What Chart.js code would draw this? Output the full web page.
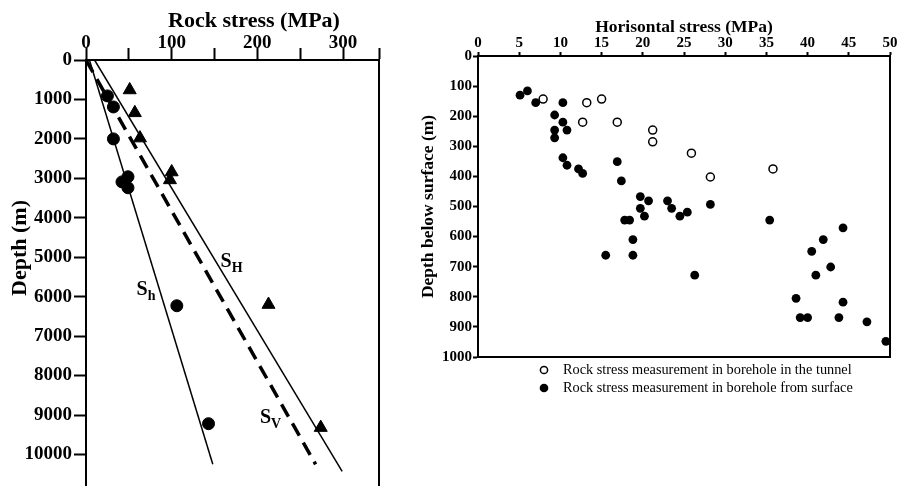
<!DOCTYPE html>
<html>
<head>
<meta charset="utf-8">
<script src="https://cdn.jsdelivr.net/npm/chart.js@4.4.0/dist/chart.umd.min.js"></script>
<style>
body{margin:0;background:#fff;width:898px;height:486px;overflow:hidden;position:relative}
canvas{position:absolute;top:0}
#depth-chart{left:0}
#horizontal-chart{left:400px}
</style>
</head>
<body>
<canvas id="depth-chart" width="400" height="486"></canvas>
<canvas id="horizontal-chart" width="498" height="486"></canvas>
<script>
Chart.defaults.font.family="'Liberation Serif', 'Times New Roman', serif";
Chart.defaults.color="#000";

// left chart - stress vs depth down to ~10 km
const minStress=[25,32,32,49,42,49,106,143];//circles (Sh)
const minDepth=[910,1190,2000,2960,3090,3240,6230,9220];
const maxStress=[51,57,63,100,98,213,274];//triangles (SH)
const maxDepth=[760,1340,1980,2840,3040,6200,9320];
const minTrendStress=[4,148], minTrendDepth=[0,10250];
const maxTrendStress=[10,299], maxTrendDepth=[0,10430];
const vertTrendStress=[0,268], vertTrendDepth=[0,10250];
const stressTickMarks=[0,50,100,150,200,250,300,342];
const rockStressTicks=[0,100,200,300];//the labelled ones
const depthTicks=[0,1000,2000,3000,4000,5000,6000,7000,8000,9000,10000];

// right chart - horisontal stress vs depth below surface
const tunnelStress=[7.9,13.2,15.0,12.7,16.9,21.2,21.2,25.9,28.2,35.8];
const tunnelDepth=[143,155,143,220,220,246,285,323,402,375];
const surfaceStress=[5.1,6.0,7.0,10.3,9.3,10.3,9.3,10.8,9.3,10.3,10.8,12.2,12.7,16.9,17.4,
  19.7,20.7,23.0,19.7,23.5,28.2,20.2,24.5,25.4,17.8,18.4,18.8,15.5,18.8,26.3,
  35.4,44.3,41.9,40.5,42.8,41.0,38.6,44.3,39.1,40.0,43.8,47.2,49.5];
const surfaceDepth=[130,116,155,155,196,220,246,246,272,338,363,375,390,351,415,
  467,481,481,506,506,493,532,532,519,545,545,610,662,662,728,
  545,571,610,649,701,728,805,818,869,869,869,883,948];

const toPoints=(xs,ys)=>xs.map((x,i)=>({x,y:ys[i]}));
const setTicks=list=>s=>{ s.ticks=list.map(v=>({value:v})); };

// S labels next to the trend lines (stress, depth)
const trendLabels=[
  {sub:"H",stress:157,depth:5240},
  {sub:"h",stress:59,depth:5960},
  {sub:"V",stress:203,depth:9200}
];

const leftText={
  id:"leftText",
  afterDatasetsDraw(chart){
    const {ctx,scales:{x,y}}=chart;
    ctx.save();
    ctx.fillStyle="#000";
    ctx.textBaseline="alphabetic";
    trendLabels.forEach(l=>{
      const px=x.getPixelForValue(l.stress), py=y.getPixelForValue(l.depth);
      ctx.font="bold 20px 'Liberation Serif'";
      ctx.fillText("S",px,py);
      const w=ctx.measureText("S").width;
      ctx.font="bold 14px 'Liberation Serif'";
      ctx.fillText(l.sub,px+w,py+5);
    });
    ctx.font="bold 22px 'Liberation Serif'";
    ctx.textAlign="center";
    ctx.textBaseline="middle";
    ctx.fillText("Rock stress (MPa)",254,21);
    ctx.translate(20,248);
    ctx.rotate(-Math.PI/2);
    ctx.fillText("Depth (m)",0,0);
    ctx.restore();
  }
};

const frameAxis=(pos,min,max)=>({
  position:pos,min,max,
  ticks:{display:false},
  grid:{display:false},
  border:{width:2,color:"#000"},
  afterFit:s=>{ if(pos==="right") s.width=0; else s.height=0; }
});

new Chart(document.getElementById("depth-chart"),{
  type:"scatter",
  data:{datasets:[
    {data:toPoints(minStress,minDepth),pointStyle:"circle",pointRadius:6,backgroundColor:"#000",borderColor:"#000",clip:false},
    {data:toPoints(maxStress,maxDepth),pointStyle:"triangle",pointRadius:7.5,backgroundColor:"#000",borderColor:"#000",clip:false},
    {data:toPoints(minTrendStress,minTrendDepth),showLine:true,pointRadius:0,borderColor:"#000",borderWidth:1.5},
    {data:toPoints(maxTrendStress,maxTrendDepth),showLine:true,pointRadius:0,borderColor:"#000",borderWidth:1.5},
    {data:toPoints(vertTrendStress,vertTrendDepth),showLine:true,pointRadius:0,borderColor:"#000",borderWidth:3.5,borderDash:[14,8]}
  ]},
  options:{
    responsive:false,animation:false,
    layout:{autoPadding:false,padding:{left:0,right:21,top:0,bottom:0}},
    plugins:{legend:{display:false},tooltip:{enabled:false}},
    scales:{
      x:{type:"linear",position:"top",min:0,max:342,
        afterBuildTicks:setTicks(stressTickMarks),
        ticks:{padding:-6,font:{size:19,weight:"bold"},maxRotation:0,autoSkip:false,
          callback:v=>rockStressTicks.includes(v)?v:""},
        grid:{drawOnChartArea:false,tickLength:12,tickWidth:2,color:"#000"},
        border:{width:2,color:"#000"},
        afterFit:s=>{s.height=60;s.paddingLeft=0;s.paddingRight=0}},
      y:{type:"linear",reverse:true,min:0,max:10800,
        afterBuildTicks:setTicks(depthTicks),
        ticks:{padding:2,font:{size:19,weight:"bold"},autoSkip:false,callback:v=>v},
        grid:{drawOnChartArea:false,tickLength:12,tickWidth:2,color:"#000"},
        border:{width:2,color:"#000"},
        afterFit:s=>{s.width=86;s.paddingTop=0;s.paddingBottom=0}},
      yFrame:frameAxis("right",0,10800)
    }
  },
  plugins:[leftText]
});

const rightLegend={
  id:"rightLegend",
  afterDraw(chart){
    const ctx=chart.ctx;
    ctx.save();
    ctx.font="14.3px 'Liberation Serif'";
    ctx.textBaseline="middle";
    chart.data.datasets.forEach((ds,i)=>{
      const cy=370+i*18;
      ctx.beginPath();
      ctx.arc(144,cy,3.6,0,2*Math.PI);
      ctx.fillStyle=ds.backgroundColor;
      ctx.fill();
      ctx.lineWidth=1.5;
      ctx.strokeStyle="#000";
      ctx.stroke();
      ctx.fillStyle="#000";
      ctx.fillText(ds.label,163,cy);
    });
    ctx.restore();
  }
};

new Chart(document.getElementById("horizontal-chart"),{
  type:"scatter",
  data:{datasets:[
    {label:"Rock stress measurement in borehole in the tunnel",data:toPoints(tunnelStress,tunnelDepth),
      pointRadius:4,borderWidth:1.5,backgroundColor:"#fff",borderColor:"#000",clip:false},
    {label:"Rock stress measurement in borehole from surface",data:toPoints(surfaceStress,surfaceDepth),
      pointRadius:4.4,borderWidth:0,backgroundColor:"#000",borderColor:"#000",clip:false}
  ]},
  options:{
    responsive:false,animation:false,
    layout:{autoPadding:false,padding:{left:0,right:8,top:0,bottom:129}},
    plugins:{legend:{display:false},tooltip:{enabled:false}},
    scales:{
      x:{type:"linear",position:"top",min:0,max:50,
        ticks:{stepSize:5,padding:0,font:{size:15,weight:"bold"},maxRotation:0,autoSkip:false,callback:v=>v},
        grid:{drawOnChartArea:false,tickLength:4,tickWidth:2,color:"#000"},
        border:{width:2,color:"#000"},
        title:{display:true,text:"Horisontal stress (MPa)",font:{size:17.5,weight:"bold"},padding:{top:17,bottom:0}},
        afterFit:s=>{s.height=56}},
      y:{type:"linear",reverse:true,min:0,max:1000,
        ticks:{stepSize:100,padding:1,font:{size:15,weight:"bold"},autoSkip:false,callback:v=>v},
        grid:{drawOnChartArea:false,tickLength:5,tickWidth:2,color:"#000"},
        border:{width:2,color:"#000"},
        title:{display:true,text:"Depth below surface (m)",font:{size:17.5,weight:"bold"},padding:{top:18,bottom:0}},
        afterFit:s=>{s.width=78}},
      xFrame:frameAxis("bottom",0,50),
      yFrame:frameAxis("right",0,1000)
    }
  },
  plugins:[rightLegend]
});
</script>
</body>
</html>
